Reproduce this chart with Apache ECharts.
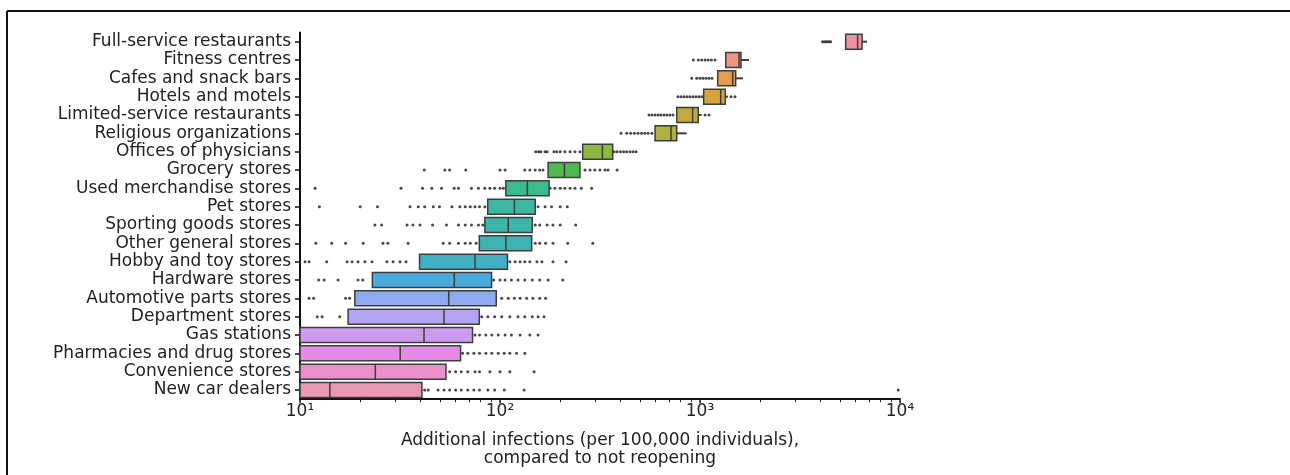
<!DOCTYPE html>
<html>
<head>
<meta charset="utf-8">
<script src="https://cdn.jsdelivr.net/npm/echarts@6/dist/echarts.min.js"></script>
<style>
html,body{margin:0;padding:0;background:#fff;}
#chart{width:1290px;height:475px;}
</style>
</head>
<body>
<div id="chart"></div>
<script>
const categories = [
  'Full-service restaurants','Fitness centres','Cafes and snack bars','Hotels and motels',
  'Limited-service restaurants','Religious organizations','Offices of physicians','Grocery stores',
  'Used merchandise stores','Pet stores','Sporting goods stores','Other general stores',
  'Hobby and toy stores','Hardware stores','Automotive parts stores','Department stores',
  'Gas stations','Pharmacies and drug stores','Convenience stores','New car dealers'
];
const q1      = [5350, 1345, 1226, 1043, 765, 596, 259, 174, 107, 86.8, 84, 78.8, 39.6, 23, 18.8, 17.4, 10, 10, 10, 10];
const medians = [6140, 1567, 1457, 1269, 919, 716, 325, 210, 137, 118, 110, 107, 75, 59.1, 55.4, 52.5, 41.7, 31.7, 23.8, 14.1];
const q3      = [6460, 1603, 1508, 1338, 980, 765, 366, 251, 176, 150, 145, 144, 109, 90.8, 95.8, 78.8, 72.9, 63.5, 53.7, 40.7];
const whiskerHigh = [6840, 1758, 1641, 1380, 1020, 858, 366, 251, 176, 150, 145, 144, 109, 90.8, 95.8, 78.8, 72.9, 63.5, 53.7, 40.7];
const outliers = [
  [4100, 4180, 4260, 4340, 4420, 4500],
  [926, 981, 1020, 1060, 1099, 1140, 1189],
  [909, 963, 1000, 1035, 1072, 1109, 1148],
  [776, 804, 832, 861, 891, 923, 955, 989, 1023, 1429, 1496],
  [556, 575, 596, 617, 638, 661, 684, 708, 733, 1060, 1109],
  [403, 430, 450, 470, 490, 510, 530, 550, 575],
  [151, 156, 160, 168, 172, 186, 192, 200, 211, 224, 237, 251, 372, 385, 400, 415, 430, 447, 463, 479],
  [41.8, 53, 56, 67.4, 100, 106, 133, 141, 150, 158, 164, 266, 282, 298, 316, 335, 347, 385],
  [11.9, 32, 41, 45.6, 51, 59, 62, 72, 78, 84, 89, 94, 100, 104, 178, 188, 200, 211, 224, 237, 255, 287],
  [12.5, 20, 24.4, 35.5, 39, 42, 46.4, 49.8, 57.5, 63, 67, 71, 75, 79, 84, 155, 168, 181, 200, 217],
  [23.7, 25.6, 34.3, 36.7, 39.8, 46, 54, 62, 67, 72, 78, 82, 150, 158, 172, 184, 200, 239],
  [12, 14.4, 16.9, 20.7, 26, 27.5, 34.7, 52, 56, 62, 67, 71, 76, 150, 158, 169, 184, 218, 291],
  [10.6, 11.1, 13.6, 17.2, 18.2, 19.5, 21.1, 22.9, 27.2, 29.2, 31.6, 33.9, 112, 119, 126, 133, 141, 153, 162, 184, 214],
  [12.4, 13.2, 15.5, 19.5, 20.6, 93, 100, 106, 114, 123, 133, 145, 158, 174, 206],
  [11.1, 11.7, 16.9, 17.7, 102, 110, 118, 126, 136, 146, 158, 169],
  [12.2, 12.9, 15.8, 81, 87, 94, 102, 112, 123, 133, 145, 155, 166],
  [75, 79, 85, 91, 98, 106, 114, 126, 141, 155],
  [65, 69, 74, 79, 85, 91, 98, 105, 112, 121, 133],
  [56, 60, 64, 69, 75, 79, 89, 100, 112, 148],
  [42, 43.7, 49, 52.5, 56, 60, 64, 69, 74, 79, 87, 94, 105, 132, 9800]
];
const palette = [
  '#ec93a6','#ee9482','#e59c50','#d4a43e','#c3aa40','#aeb041','#8bb83d','#4fba4f',
  '#3eb98c','#3db79f','#3db5a8','#3eb2b3','#3fb0c6','#4aaade','#8fa9ee','#b3a5ef',
  '#cc9aee','#e68ae8','#e98fc9','#ea97b4'
];
const majorTicks = [10, 100, 1000, 10000];
const majorTickLabels = ['10\u00B9', '10\u00B2', '10\u00B3', '10\u2074'];
const minorTicks = [20,30,40,50,60,70,80,90,200,300,400,500,600,700,800,900,2000,3000,4000,5000,6000,7000,8000,9000];
const xTitle = 'Additional infections (per 100,000 individuals),\ncompared to not reopening';

const FONT = 'DejaVu Sans';
const chart = echarts.init(document.getElementById('chart'), null, {renderer: 'canvas'});

const boxData = categories.map((c, i) => ({
  value: [q1[i], q1[i], medians[i], q3[i], q3[i]],
  itemStyle: {color: palette[i], borderColor: '#3d3d3d', borderWidth: 1.5}
}));
const whiskerData = [];
categories.forEach((c, i) => {
  if (whiskerHigh[i] > q3[i]) whiskerData.push([q3[i], whiskerHigh[i], i]);
});
const outlierData = [];
outliers.forEach((arr, i) => arr.forEach(v => outlierData.push([v, i])));

const option = {
  animation: false,
  backgroundColor: '#ffffff',
  grid: {left: 300, right: 390, top: 32.5, bottom: 75.8, containLabel: false},
  xAxis: [{
    type: 'log', logBase: 10, min: 10, max: 10000,
    position: 'bottom',
    axisLine: {show: true, lineStyle: {color: '#111', width: 2}},
    axisTick: {show: true, length: 4, lineStyle: {color: '#111', width: 1.5}},
    splitLine: {show: false},
    axisLabel: {
      margin: 4, fontFamily: FONT, fontSize: 17, color: '#222',
      formatter: v => {
        const k = majorTicks.findIndex(t => Math.abs(t - v) / t < 1e-6);
        return k >= 0 ? majorTickLabels[k] : '';
      }
    },
    name: xTitle, nameLocation: 'middle', nameGap: 32,
    nameTextStyle: {fontFamily: FONT, fontSize: 17, color: '#222', lineHeight: 18}
  }, {
    type: 'value', min: 1, max: 4, position: 'bottom',
    axisLine: {show: false},
    axisTick: {show: true, length: 3, customValues: minorTicks.map(v => Math.log10(v)), lineStyle: {color: '#222', width: 1}},
    axisLabel: {show: false},
    splitLine: {show: false}
  }],
  yAxis: {
    type: 'category', data: categories, inverse: true,
    axisLine: {show: true, lineStyle: {color: '#111', width: 2}},
    axisTick: {show: true, length: 5, alignWithLabel: true, interval: 0, lineStyle: {color: '#111', width: 1.5}},
    axisLabel: {margin: 9, interval: 0, hideOverlap: false, fontFamily: FONT, fontSize: 17, color: '#222'},
    splitLine: {show: false}
  },
  series: [{
    type: 'scatter', xAxisIndex: 0, data: outlierData,
    symbol: 'circle', symbolSize: 3,
    itemStyle: {color: '#333333', opacity: 0.9}, z: 2
  }, {
    type: 'custom', xAxisIndex: 0, data: whiskerData, z: 3,
    renderItem: (params, api) => {
      const a = api.coord([api.value(0), api.value(2)]);
      const b = api.coord([api.value(1), api.value(2)]);
      return {type: 'line', shape: {x1: a[0], y1: a[1], x2: b[0], y2: b[1]},
        style: {stroke: '#3d3d3d', lineWidth: 2}};
    }
  }, {
    type: 'boxplot', xAxisIndex: 0, layout: 'horizontal', data: boxData,
    boxWidth: [15, 15], z: 4
  }],
  graphic: [
    {type: 'line', shape: {x1: 7, y1: 11, x2: 1290, y2: 11}, style: {stroke: '#111', lineWidth: 2}},
    {type: 'line', shape: {x1: 7, y1: 11, x2: 7, y2: 475}, style: {stroke: '#111', lineWidth: 2}}
  ]
};
chart.setOption(option);
</script>
</body>
</html>
